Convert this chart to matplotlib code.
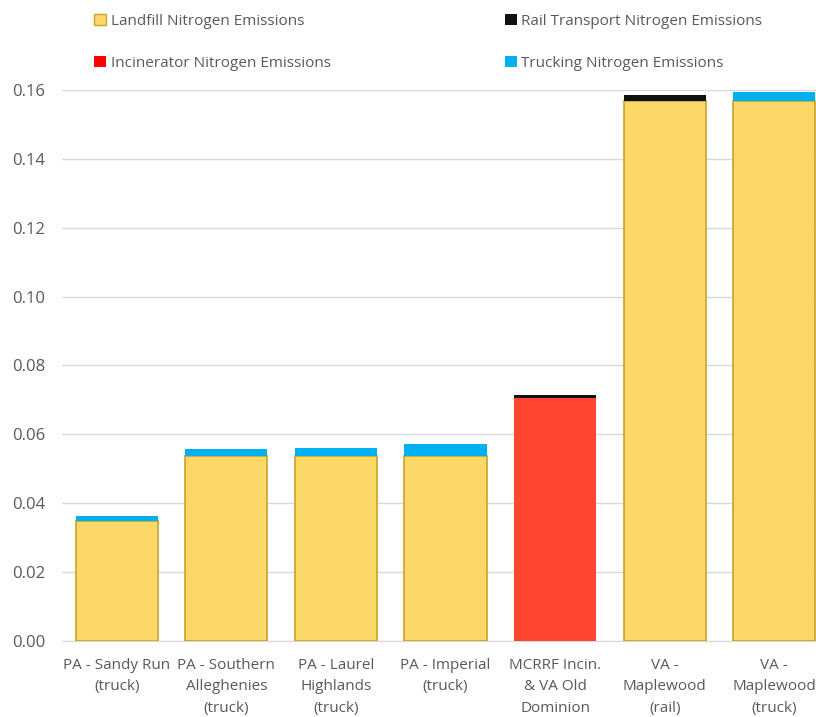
import matplotlib.pyplot as plt
from matplotlib.patches import Patch
import numpy as np

plt.rcParams['font.family'] = ['Open Sans', 'DejaVu Sans']

categories = ['PA - Sandy Run\n(truck)', 'PA - Southern\nAlleghenies\n(truck)',
              'PA - Laurel\nHighlands\n(truck)', 'PA - Imperial\n(truck)',
              'MCRRF Incin.\n& VA Old\nDominion', 'VA -\nMaplewood\n(rail)',
              'VA -\nMaplewood\n(truck)']

landfill = [0.0347, 0.0537, 0.0537, 0.0537, 0.0, 0.1568, 0.1568]
incinerator = [0.0, 0.0, 0.0, 0.0, 0.0706, 0.0, 0.0]
rail = [0.0, 0.0, 0.0, 0.0, 0.0007, 0.0017, 0.0]
trucking = [0.0017, 0.0021, 0.0024, 0.0035, 0.0, 0.0, 0.0025]

yellow = '#FCD869'
yellow_edge = '#C9A227'
red_bar = '#FF4530'
black = '#111111'
blue = '#00B0F0'
gray_txt = '#595959'

fig = plt.figure(figsize=(8.16, 7.17), dpi=100)
ax = fig.add_axes([0.076, 0.106, 0.94, 0.7685])

x = np.arange(len(categories))
w = 0.75
landfill = np.array(landfill)
incinerator = np.array(incinerator)
rail = np.array(rail)
trucking = np.array(trucking)

ax.bar(x, landfill, w, color=yellow, edgecolor=yellow_edge, linewidth=1.2, zorder=3)
ax.bar(x, incinerator, w, bottom=landfill, color=red_bar, linewidth=0, zorder=3)
base = landfill + incinerator
ax.bar(x, rail, w, bottom=base, color=black, linewidth=0, zorder=3)
base = base + rail
ax.bar(x, trucking, w, bottom=base, color=blue, linewidth=0, zorder=3)

ax.set_xlim(-0.5, len(categories) - 0.5)
ax.set_ylim(0, 0.16)
ax.set_yticks(np.arange(0, 0.161, 0.02))
ax.set_yticklabels(['%.2f' % v for v in np.arange(0, 0.161, 0.02)])
ax.set_xticks(x)
ax.set_xticklabels(categories, linespacing=1.6)
ax.tick_params(axis='both', length=0, labelsize=11, colors=gray_txt)
ax.tick_params(axis='x', pad=12)
ax.tick_params(axis='y', pad=12, labelsize=12)
ax.grid(axis='y', color='#D9D9D9', linewidth=1, zorder=0)
for s in ['top', 'right', 'left']:
    ax.spines[s].set_visible(False)
ax.spines['bottom'].set_color('#D9D9D9')

handles = [
    Patch(facecolor=yellow, edgecolor=yellow_edge, label='Landfill Nitrogen Emissions'),
    Patch(facecolor='#FF0000', label='Incinerator Nitrogen Emissions'),
    Patch(facecolor=black, label='Rail Transport Nitrogen Emissions'),
    Patch(facecolor=blue, label='Trucking Nitrogen Emissions'),
]
leg = fig.legend(handles=handles, ncol=2, loc='upper left', bbox_to_anchor=(0.098, 1.0),
                 frameon=False, fontsize=11, handlelength=0.8, handleheight=0.8,
                 handletextpad=0.3, columnspacing=11.4, labelspacing=1.75, borderpad=0.4)
for t in leg.get_texts():
    t.set_color(gray_txt)

fig.savefig('out.png', dpi=100)
